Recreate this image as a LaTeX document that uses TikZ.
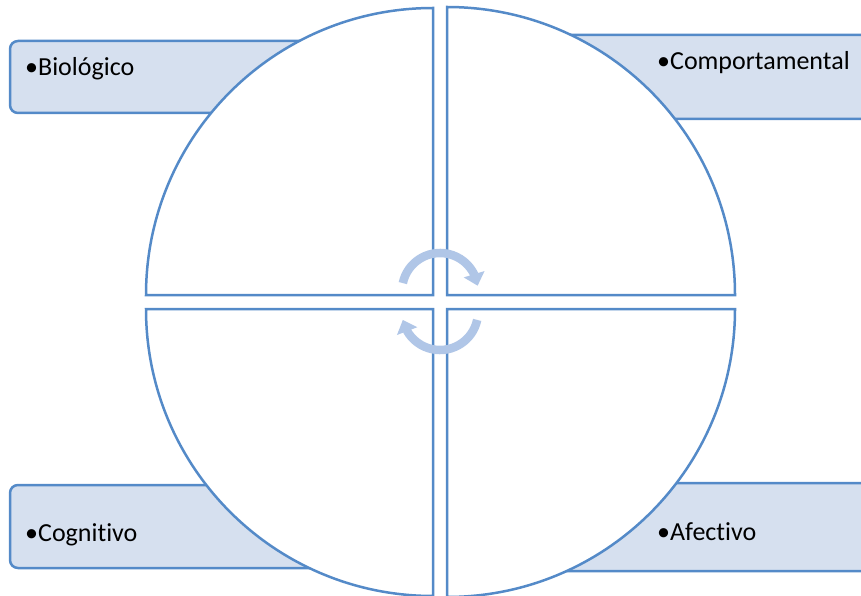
\documentclass[tikz,border=0pt]{standalone}
\usepackage{fontspec}
\setmainfont[Ligatures=NoCommon]{Carlito}
\usetikzlibrary{arrows.meta,bending}
\definecolor{qline}{RGB}{84,138,200}
\definecolor{qfill}{RGB}{214,224,239}
\definecolor{arr}{RGB}{176,198,231}
\begin{document}
\begin{tikzpicture}[x=1pt,y=1pt,
  quarter/.style={draw=qline, line width=2.5pt, fill=white, line join=miter},
  sidebox/.style={draw=qline, line width=2.5pt, fill=qfill, rounded corners=8pt},
  lbl/.style={font=\fontsize{26}{30}\selectfont, inner sep=0pt, anchor=base west},
  cyc/.style={draw=arr, line width=8.5pt, -{Triangle[width=21pt,length=12pt,flex]}}]
\useasboundingbox (0,0) rectangle (861,595);
\clip (0,0) rectangle (861,595);
% side boxes
\draw[sidebox] (10,482) rectangle (380,554);
\draw[sidebox] (500,476) rectangle (900,560);
\draw[sidebox] (10,27) rectangle (380,110);
\draw[sidebox] (500,24) rectangle (900,112);
% quarters
\draw[quarter] (433,300) -- (146,300) arc[start angle=180,end angle=90,radius=287] -- cycle;
\draw[quarter] (447,300) -- (447,588) arc[start angle=90,end angle=0,radius=288] -- cycle;
\draw[quarter] (433,286) -- (146,286) arc[start angle=180,end angle=270,radius=287] -- cycle;
\draw[quarter] (447,286) -- (735,286) arc[start angle=0,end angle=-90,radius=288] -- cycle;
% cycle arrows
\coordinate (cu) at (440,304);
\coordinate (cl) at (440,283);
\draw[cyc] (cu) ++(168:38) arc[start angle=168,end angle=8,radius=38];
\draw[cyc] (cl) ++(-12:38) arc[start angle=-12,end angle=-168,radius=38];
% labels
\node[lbl] (bio) at (25,519) {•Biológico};
\node[lbl] (com) at (657,525) {•Comportamental};
\node[lbl] (cog) at (25,54) {•Cognitivo};
\node[lbl] (afe) at (657,55) {•Afectivo};
\end{tikzpicture}
\end{document}
